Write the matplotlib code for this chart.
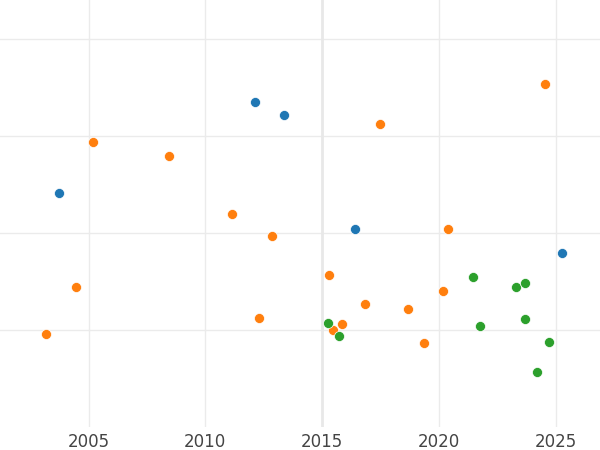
import matplotlib
matplotlib.use("Agg")
import matplotlib.pyplot as plt

# series values
blue_x = [2003.74, 2012.13, 2013.37, 2016.41, 2025.28]
blue_y = [2.41, 3.35, 3.21, 2.04, 1.79]

orange_x = [2003.18, 2004.46, 2005.19, 2008.45, 2011.15, 2012.86, 2012.30,
            2015.30, 2015.47, 2015.86, 2016.84, 2017.48, 2018.68, 2019.37,
            2020.18, 2020.40, 2024.55]
orange_y = [0.96, 1.44, 2.94, 2.79, 2.20, 1.97, 1.12,
            1.57, 1.00, 1.06, 1.27, 3.12, 1.22, 0.87,
            1.40, 2.04, 3.53]

green_x = [2015.26, 2015.73, 2021.47, 2021.77, 2023.31, 2023.70, 2023.70,
           2024.21, 2024.72]
green_y = [1.07, 0.94, 1.55, 1.04, 1.44, 1.48, 1.11, 0.57, 0.88]

x_ticks = [2005, 2010, 2015, 2020, 2025]

fig = plt.figure(figsize=(6, 4.5), dpi=100)
ax = fig.add_axes([0, 0.051, 1, 0.949])

ax.axvline(2015, color="#e8e8e8", lw=2, zorder=1)

kw = dict(s=52, edgecolors="white", linewidths=0.5, zorder=3)
ax.scatter(blue_x, blue_y, color="#1f77b4", **kw)
ax.scatter(orange_x, orange_y, color="#ff7f0e", **kw)
ax.scatter(green_x, green_y, color="#2ca02c", **kw)

ax.set_xlim(2001.21, 2026.9)
ax.set_ylim(0, 4.4)
ax.set_xticks(x_ticks)
ax.set_xticklabels([str(t) for t in x_ticks])
ax.set_yticks([1, 2, 3, 4])
ax.set_yticklabels([])
ax.grid(True, color="#ebebeb", lw=1)
ax.set_axisbelow(True)
ax.tick_params(length=0, labelsize=12, labelcolor="#444444", pad=4)
for s in ax.spines.values():
    s.set_visible(False)

fig.savefig("out.png", dpi=100)
